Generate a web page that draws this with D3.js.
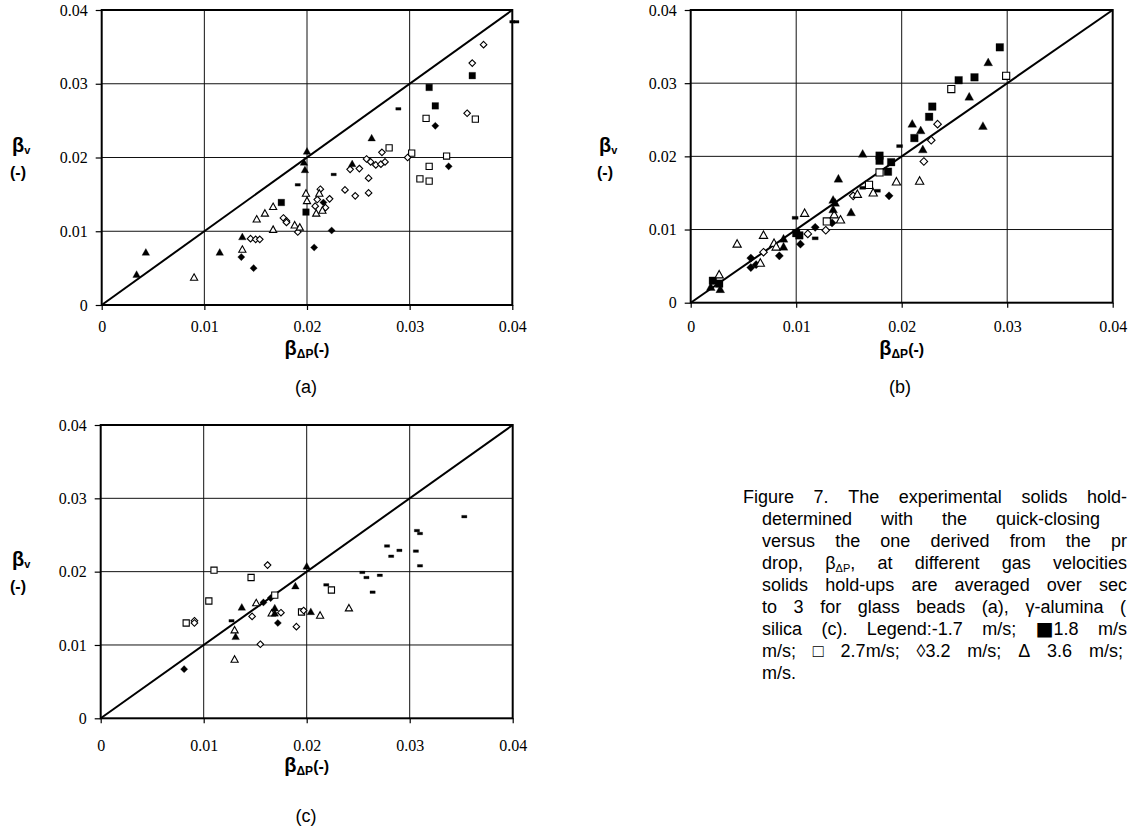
<!DOCTYPE html>
<html><head><meta charset="utf-8">
<script src="https://cdn.jsdelivr.net/npm/d3@7"></script>
<style>html,body{margin:0;padding:0;background:#fff;overflow:hidden}svg{display:block}</style>
</head><body>
<script>
// ---------- data ----------
const tickValues = [0, 0.01, 0.02, 0.03, 0.04];
const tickLabels = ["0", "0.01", "0.02", "0.03", "0.04"];
const panelLabels = ["(a)", "(b)", "(c)"];

// Panel (a) glass beads
const a_dash   = [[0.0191,0.0163],[0.0226,0.0177],[0.0289,0.0266],[0.0400,0.0384],[0.0404,0.0384]];
const a_sqFill = [[0.0175,0.0139],[0.0199,0.0126],[0.0319,0.0295],[0.0325,0.0270],[0.0361,0.0311]];
const a_dmFill = [[0.0136,0.0065],[0.0148,0.0050],[0.0207,0.0078],[0.0224,0.0101],[0.0216,0.0139],[0.0325,0.0243],[0.0338,0.0188]];
const a_sqOpen = [[0.0280,0.0213],[0.0302,0.0206],[0.0316,0.0253],[0.0319,0.0188],[0.0310,0.0171],[0.0319,0.0168],[0.0336,0.0202],[0.0364,0.0252]];
const a_dmOpen = [[0.0145,0.0090],[0.0150,0.0089],[0.0154,0.0089],[0.0177,0.0118],[0.0180,0.0114],[0.0180,0.0112],[0.0191,0.0099],[0.0213,0.0157],[0.0210,0.0143],[0.0222,0.0144],[0.0208,0.0134],[0.0218,0.0132],[0.0237,0.0156],[0.0242,0.0184],[0.0251,0.0185],[0.0247,0.0148],[0.0260,0.0152],[0.0260,0.0172],[0.0258,0.0198],[0.0262,0.0194],[0.0267,0.0190],[0.0272,0.0191],[0.0276,0.0194],[0.0273,0.0207],[0.0298,0.0200],[0.0356,0.0260],[0.0361,0.0328],[0.0372,0.0353]];
const a_trOpen = [[0.0090,0.0037],[0.0137,0.0075],[0.0151,0.0116],[0.0159,0.0124],[0.0167,0.0102],[0.0167,0.0133],[0.0188,0.0108],[0.0193,0.0105],[0.0199,0.0151],[0.0200,0.0141],[0.0212,0.0151],[0.0209,0.0124],[0.0215,0.0128]];
const a_trFill = [[0.0034,0.0041],[0.0043,0.0071],[0.0115,0.0071],[0.0137,0.0092],[0.0197,0.0193],[0.0198,0.0183],[0.0200,0.0208],[0.0244,0.0191],[0.0263,0.0226]];

// Panel (b) gamma-alumina
const b_dash   = [[0.0099,0.0116],[0.0118,0.0088],[0.0163,0.0157],[0.0177,0.0153],[0.0198,0.0214]];
const b_sqFill = [[0.0021,0.0030],[0.0027,0.0026],[0.0100,0.0095],[0.0103,0.0092],[0.0179,0.0201],[0.0179,0.0194],[0.0187,0.0179],[0.0190,0.0192],[0.0212,0.0225],[0.0226,0.0254],[0.0229,0.0268],[0.0254,0.0304],[0.0269,0.0308],[0.0293,0.0349]];
const b_dmFill = [[0.0057,0.0061],[0.0057,0.0048],[0.0062,0.0052],[0.0084,0.0064],[0.0104,0.0080],[0.0118,0.0103],[0.0134,0.0109],[0.0188,0.0146]];
const b_sqOpen = [[0.0129,0.0111],[0.0169,0.0161],[0.0179,0.0178],[0.0247,0.0292],[0.0299,0.0310]];
const b_dmOpen = [[0.0069,0.0069],[0.0111,0.0094],[0.0128,0.0099],[0.0154,0.0146],[0.0221,0.0193],[0.0228,0.0222],[0.0234,0.0244]];
const b_trOpen = [[0.0027,0.0038],[0.0044,0.0080],[0.0069,0.0092],[0.0066,0.0054],[0.0079,0.0081],[0.0081,0.0076],[0.0108,0.0122],[0.0136,0.0120],[0.0142,0.0113],[0.0158,0.0148],[0.0173,0.0150],[0.0195,0.0165],[0.0217,0.0166]];
const b_trFill = [[0.0019,0.0021],[0.0028,0.0018],[0.0088,0.0087],[0.0088,0.0076],[0.0135,0.0140],[0.0137,0.0136],[0.0135,0.0127],[0.0140,0.0169],[0.0152,0.0123],[0.0163,0.0203],[0.0210,0.0244],[0.0218,0.0235],[0.0220,0.0209],[0.0264,0.0281],[0.0277,0.0241],[0.0282,0.0328]];

// Panel (c) silica
const c_dash   = [[0.0127,0.0133],[0.0219,0.0182],[0.0254,0.0199],[0.0258,0.0192],[0.0264,0.0172],[0.0271,0.0195],[0.0278,0.0235],[0.0282,0.0221],[0.0290,0.0229],[0.0306,0.0228],[0.0307,0.0256],[0.0310,0.0252],[0.0310,0.0208],[0.0353,0.0275]];
const c_sqFill = [];
const c_dmFill = [[0.0081,0.0067],[0.0158,0.0158],[0.0165,0.0164],[0.0172,0.0130]];
const c_sqOpen = [[0.0083,0.0130],[0.0105,0.0160],[0.0110,0.0202],[0.0146,0.0192],[0.0169,0.0168],[0.0195,0.0145],[0.0224,0.0175]];
const c_dmOpen = [[0.0091,0.0133],[0.0091,0.0130],[0.0147,0.0139],[0.0155,0.0101],[0.0162,0.0209],[0.0175,0.0144],[0.0190,0.0125],[0.0197,0.0147]];
const c_trOpen = [[0.0130,0.0120],[0.0130,0.0080],[0.0151,0.0157],[0.0166,0.0143],[0.0213,0.0140],[0.0241,0.0150]];
const c_trFill = [[0.0131,0.0111],[0.0137,0.0151],[0.0169,0.0150],[0.0169,0.0143],[0.0189,0.0180],[0.0200,0.0207],[0.0204,0.0145]];

// caption, as far as it is visible in the figure
const captionLines = [
  "Figure 7. The experimental solids hold-",
  "determined with the quick-closing",
  "versus the one derived from the pr",
  "drop, βΔP, at different gas velocities",
  "solids hold-ups are averaged over sec",
  "to 3 for glass beads (a), γ-alumina (",
  "silica (c). Legend:-1.7 m/s; ■1.8 m/s",
  "m/s; □ 2.7m/s; ◊3.2 m/s; Δ 3.6 m/s;",
  "m/s."
];

// ---------- drawing ----------
const W = 1130, H = 833;
const svg = d3.select("body").append("svg").attr("width", W).attr("height", H);

const markerPath = {
  dash:   s => `M${-2.6*s},${-1.3*s}h${5.2*s}v${2.6*s}h${-5.2*s}Z`,
  sqFill: s => `M${-3.3*s},${-3.3*s}h${6.6*s}v${6.6*s}h${-6.6*s}Z`,
  sqOpen: s => `M${-3.1*s},${-3.1*s}h${6.2*s}v${6.2*s}h${-6.2*s}Z`,
  dmFill: s => `M0,${-3.6*s}L${3.6*s},0L0,${3.6*s}L${-3.6*s},0Z`,
  dmOpen: s => `M0,${-3.3*s}L${3.3*s},0L0,${3.3*s}L${-3.3*s},0Z`,
  trOpen: s => `M0,${-3.9*s}L${3.6*s},${2.6*s}L${-3.6*s},${2.6*s}Z`,
  trFill: s => `M0,${-4.1*s}L${3.8*s},${2.7*s}L${-3.8*s},${2.7*s}Z`
};
const filled = {dash:true, sqFill:true, dmFill:true, trFill:true, sqOpen:false, dmOpen:false, trOpen:false};

const panels = [
  {label:panelLabels[0], x0:101.7, x1:512.3, yb:305, yt:10, ms:1.0, lx:306, ly:393, ytx:22, xtitleY:355, ylabX:12, ylabY:152,
   data:{dash:a_dash, sqFill:a_sqFill, dmFill:a_dmFill, sqOpen:a_sqOpen, dmOpen:a_dmOpen, trOpen:a_trOpen, trFill:a_trFill}},
  {label:panelLabels[1], x0:690.7, x1:1112.7, yb:302.7, yt:10, ms:1.15, lx:900, ly:393, ytx:24, xtitleY:355, ylabX:599, ylabY:152,
   data:{dash:b_dash, sqFill:b_sqFill, dmFill:b_dmFill, sqOpen:b_sqOpen, dmOpen:b_dmOpen, trOpen:b_trOpen, trFill:b_trFill}},
  {label:panelLabels[2], x0:100.7, x1:512.7, yb:718.3, yt:425, ms:1.0, lx:306, ly:822, ytx:27, xtitleY:772, ylabX:12, ylabY:566,
   data:{dash:c_dash, sqFill:c_sqFill, dmFill:c_dmFill, sqOpen:c_sqOpen, dmOpen:c_dmOpen, trOpen:c_trOpen, trFill:c_trFill}}
];

panels.forEach(p => {
  const x = d3.scaleLinear().domain([0, 0.04]).range([p.x0, p.x1]);
  const y = d3.scaleLinear().domain([0, 0.04]).range([p.yb, p.yt]);
  const g = svg.append("g");

  // grid
  g.selectAll(".gx").data(tickValues.slice(1, -1)).join("line")
    .attr("x1", d => x(d)).attr("x2", d => x(d)).attr("y1", p.yt).attr("y2", p.yb)
    .attr("stroke", "#111").attr("stroke-width", 1);
  g.selectAll(".gy").data(tickValues.slice(1, -1)).join("line")
    .attr("y1", d => y(d)).attr("y2", d => y(d)).attr("x1", p.x0).attr("x2", p.x1)
    .attr("stroke", "#111").attr("stroke-width", 1);

  // axes
  const ax = g.append("g").attr("transform", `translate(0,${p.yb})`)
    .call(d3.axisBottom(x).tickValues(tickValues).tickFormat((d, i) => tickLabels[i]).tickSizeInner(5).tickSizeOuter(0).tickPadding(p.ytx - 11));
  const ay = g.append("g").attr("transform", `translate(${p.x0},0)`)
    .call(d3.axisLeft(y).tickValues(tickValues).tickFormat((d, i) => tickLabels[i]).tickSizeInner(6).tickSizeOuter(0).tickPadding(8));
  [ax, ay].forEach(a => {
    a.select(".domain").remove();
    a.selectAll("line").attr("stroke", "#000").attr("stroke-width", 1.2);
    a.selectAll("text").attr("font-family", "'Liberation Serif', 'Times New Roman', serif")
      .attr("font-size", 16).attr("fill", "#000");
  });

  // frame
  g.append("rect").attr("x", p.x0).attr("y", p.yt).attr("width", p.x1 - p.x0).attr("height", p.yb - p.yt)
    .attr("fill", "none").attr("stroke", "#000").attr("stroke-width", 2);

  // diagonal y = x
  g.append("line").attr("x1", x(0)).attr("y1", y(0)).attr("x2", x(0.04)).attr("y2", y(0.04))
    .attr("stroke", "#000").attr("stroke-width", 2);

  // markers
  Object.keys(p.data).forEach(k => {
    g.selectAll(null).data(p.data[k]).join("path")
      .attr("transform", d => `translate(${x(d[0])},${y(d[1])})`)
      .attr("d", markerPath[k](p.ms))
      .attr("fill", filled[k] ? "#000" : "#fff")
      .attr("stroke", "#000").attr("stroke-width", filled[k] ? 0.3 : 1.1);
  });

  // y title
  const yt = g.append("text").attr("x", p.ylabX).attr("y", p.ylabY)
    .attr("font-family", "'Liberation Sans', Arial, sans-serif").attr("font-weight", "bold").attr("fill", "#000");
  yt.append("tspan").attr("font-size", 20).text("β");
  yt.append("tspan").attr("font-size", 11).attr("dy", 2).text("v");
  g.append("text").attr("x", p.ylabX - 2).attr("y", p.ylabY + 26)
    .attr("font-family", "'Liberation Sans', Arial, sans-serif").attr("font-weight", "bold").attr("font-size", 16).text("(-)");

  // x title
  const xt = g.append("text").attr("x", (p.x0 + p.x1) / 2).attr("y", p.xtitleY).attr("text-anchor", "middle")
    .attr("font-family", "'Liberation Sans', Arial, sans-serif").attr("font-weight", "bold").attr("fill", "#000");
  xt.append("tspan").attr("font-size", 20).text("β");
  xt.append("tspan").attr("font-size", 12).attr("dy", 3).text("ΔP");
  xt.append("tspan").attr("font-size", 16).attr("dy", -3).text("(-)");

  // panel label
  g.append("text").attr("x", p.lx).attr("y", p.ly).attr("text-anchor", "middle")
    .attr("font-family", "'Liberation Sans', Arial, sans-serif").attr("font-size", 18).text(p.label);
});

// ---------- caption (justified to the visible edge) ----------
const capFont = "'Liberation Sans', Arial, sans-serif";
const capSize = 18, capTop = 503, capLH = 22;
const capRights = [1127, 1100, 1127, 1127, 1127, 1126, 1127, 1123, null];
captionLines.forEach((line, i) => {
  const left = i === 0 ? 743 : 762;
  const words = line.split(" ");
  const yPos = capTop + i * capLH;
  const nodes = words.map(w => {
    const t = svg.append("text").attr("y", yPos).attr("font-family", capFont).attr("font-size", capSize).attr("fill", "#000");
    if (w.startsWith("βΔP")) {
      t.append("tspan").text("β"); t.append("tspan").attr("font-size", 11).attr("dy", 3).text("ΔP");
      t.append("tspan").attr("dy", -3).text(w.slice(3));
    } else if (w.startsWith("■")) {
      t.append("tspan").attr("font-family", "'DejaVu Sans', sans-serif").attr("font-size", 19).text("■");
      t.append("tspan").text(w.slice(1));
    } else t.text(w);
    return t;
  });
  const widths = nodes.map(n => n.node().getComputedTextLength());
  const total = d3.sum(widths);
  const right = capRights[i];
  let gap = right == null || words.length < 2 ? 5 : (right - left - total) / (words.length - 1);
  if (gap < 3) {
    const k = (right - left - 3 * (words.length - 1)) / total;
    nodes.forEach(n => n.attr("font-size", capSize * k));
    widths.forEach((w, j) => widths[j] = w * k);
    gap = 3;
  }
  let cx = left;
  nodes.forEach((n, j) => { n.attr("x", cx); cx += widths[j] + gap; });
});
</script>
</body></html>
